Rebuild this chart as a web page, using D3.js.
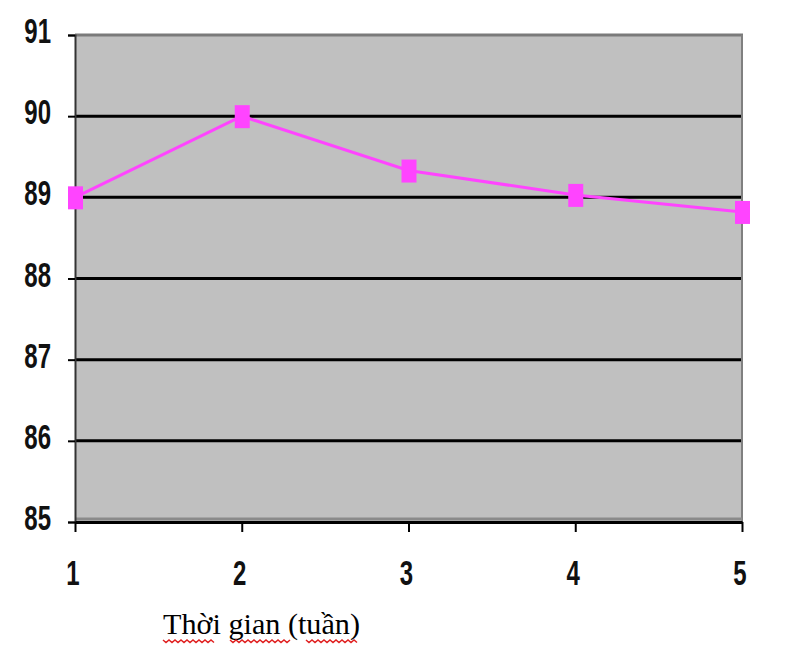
<!DOCTYPE html>
<html>
<head>
<meta charset="utf-8">
<script src="https://cdn.jsdelivr.net/npm/d3@7"></script>
<style>
  body { margin: 0; background: #fff; }
  svg { display: block; }
</style>
</head>
<body>
<svg id="chart" width="800" height="653"></svg>
<script>
// data
var weeks = [1, 2, 3, 4, 5];
var values = [89, 90, 89.33, 89.03, 88.82];
var yTicks = [85, 86, 87, 88, 89, 90, 91];
var xTitle = 'Thời gian (tuần)';

var plotLeft = 75, plotRight = 742, plotTop = 35, plotBottom = 522;

var svg = d3.select('#chart');

var x = d3.scalePoint()
    .domain(weeks)
    .range([plotLeft, plotRight]);

var y = d3.scaleLinear()
    .domain([85, 91])
    .range([plotBottom, plotTop]);

// plot background
svg.append('rect')
   .attr('x', plotLeft)
   .attr('y', plotTop)
   .attr('width', plotRight - plotLeft)
   .attr('height', plotBottom - plotTop)
   .attr('fill', '#c0c0c0');

// gridlines
svg.append('g')
   .selectAll('line')
   .data(yTicks.slice(1, -1))
   .enter()
   .append('line')
   .attr('x1', plotLeft)
   .attr('x2', plotRight)
   .attr('y1', function (d) { return y(d); })
   .attr('y2', function (d) { return y(d); })
   .attr('stroke', '#000')
   .attr('stroke-width', 3);

// frame: top + right in gray, shadow above the x axis
svg.append('line')
   .attr('x1', plotLeft).attr('x2', plotRight + 1)
   .attr('y1', plotTop).attr('y2', plotTop)
   .attr('stroke', '#7a7a7a').attr('stroke-width', 3);
svg.append('line')
   .attr('x1', plotRight).attr('x2', plotRight)
   .attr('y1', plotTop).attr('y2', plotBottom)
   .attr('stroke', '#808080').attr('stroke-width', 2);
svg.append('line')
   .attr('x1', plotLeft).attr('x2', plotRight)
   .attr('y1', plotBottom - 3).attr('y2', plotBottom - 3)
   .attr('stroke', '#8a8a8a').attr('stroke-width', 3);

// y axis
var yAxis = d3.axisLeft(y)
    .tickValues(yTicks)
    .tickSize(7)
    .tickFormat('');
var gy = svg.append('g')
    .attr('transform', 'translate(' + plotLeft + ',0)')
    .call(yAxis);
gy.select('.domain').attr('stroke', '#333').attr('stroke-width', 2);
gy.selectAll('.tick line').attr('stroke', '#000').attr('stroke-width', 2);

// x axis
var xAxis = d3.axisBottom(x)
    .tickSize(10)
    .tickSizeOuter(0)
    .tickFormat('');
var gx = svg.append('g')
    .attr('transform', 'translate(0,' + plotBottom + ')')
    .call(xAxis);
gx.select('.domain').attr('stroke', '#000').attr('stroke-width', 3);
gx.selectAll('.tick line').attr('stroke', '#000').attr('stroke-width', 2);

// tick labels (narrow bold, stretched vertically like the original)
svg.append('g')
   .selectAll('text')
   .data(yTicks)
   .enter()
   .append('text')
   .attr('transform', function (d) {
       return 'translate(51,' + (y(d) + 8) + ') scale(1,1.45)';
   })
   .attr('text-anchor', 'end')
   .attr('font-family', 'Liberation Sans, Arial, sans-serif')
   .attr('font-weight', 'bold')
   .attr('font-size', 24)
   .attr('fill', '#111')
   .text(function (d) { return d; });

svg.append('g')
   .selectAll('text')
   .data(weeks)
   .enter()
   .append('text')
   .attr('transform', function (d) {
       return 'translate(' + (x(d) - 2) + ',585) scale(1,1.45)';
   })
   .attr('text-anchor', 'middle')
   .attr('font-family', 'Liberation Sans, Arial, sans-serif')
   .attr('font-weight', 'bold')
   .attr('font-size', 24)
   .attr('fill', '#111')
   .text(function (d) { return d; });

// series
var line = d3.line()
    .x(function (d, i) { return x(weeks[i]); })
    .y(function (d) { return y(d); });

svg.append('path')
   .datum(values)
   .attr('d', line)
   .attr('fill', 'none')
   .attr('stroke', '#ff44ff')
   .attr('stroke-width', 3);

svg.append('g')
   .selectAll('rect')
   .data(values)
   .enter()
   .append('rect')
   .attr('x', function (d, i) { return x(weeks[i]) - 7; })
   .attr('y', function (d) { return y(d) - 11; })
   .attr('width', 15)
   .attr('height', 23)
   .attr('fill', '#ff44ff');

// axis title
svg.append('text')
   .attr('x', 163)
   .attr('y', 634)
   .attr('font-family', 'Liberation Serif, Times New Roman, serif')
   .attr('font-size', 29)
   .attr('textLength', 197)
   .attr('lengthAdjust', 'spacingAndGlyphs')
   .attr('fill', '#000')
   .text(xTitle);

// red spell-check squiggles under the words
var words = [[163, 212], [230, 290], [306, 356]];
words.forEach(function (w) {
    var d = 'M' + w[0] + ',640';
    for (var px = w[0], k = 0; px < w[1]; px += 3, k++) {
        d += 'L' + (px + 3) + ',' + (k % 2 ? 640 : 642.5);
    }
    svg.append('path')
       .attr('d', d)
       .attr('fill', 'none')
       .attr('stroke', '#e02020')
       .attr('stroke-width', 1.5);
});
</script>
</body>
</html>
